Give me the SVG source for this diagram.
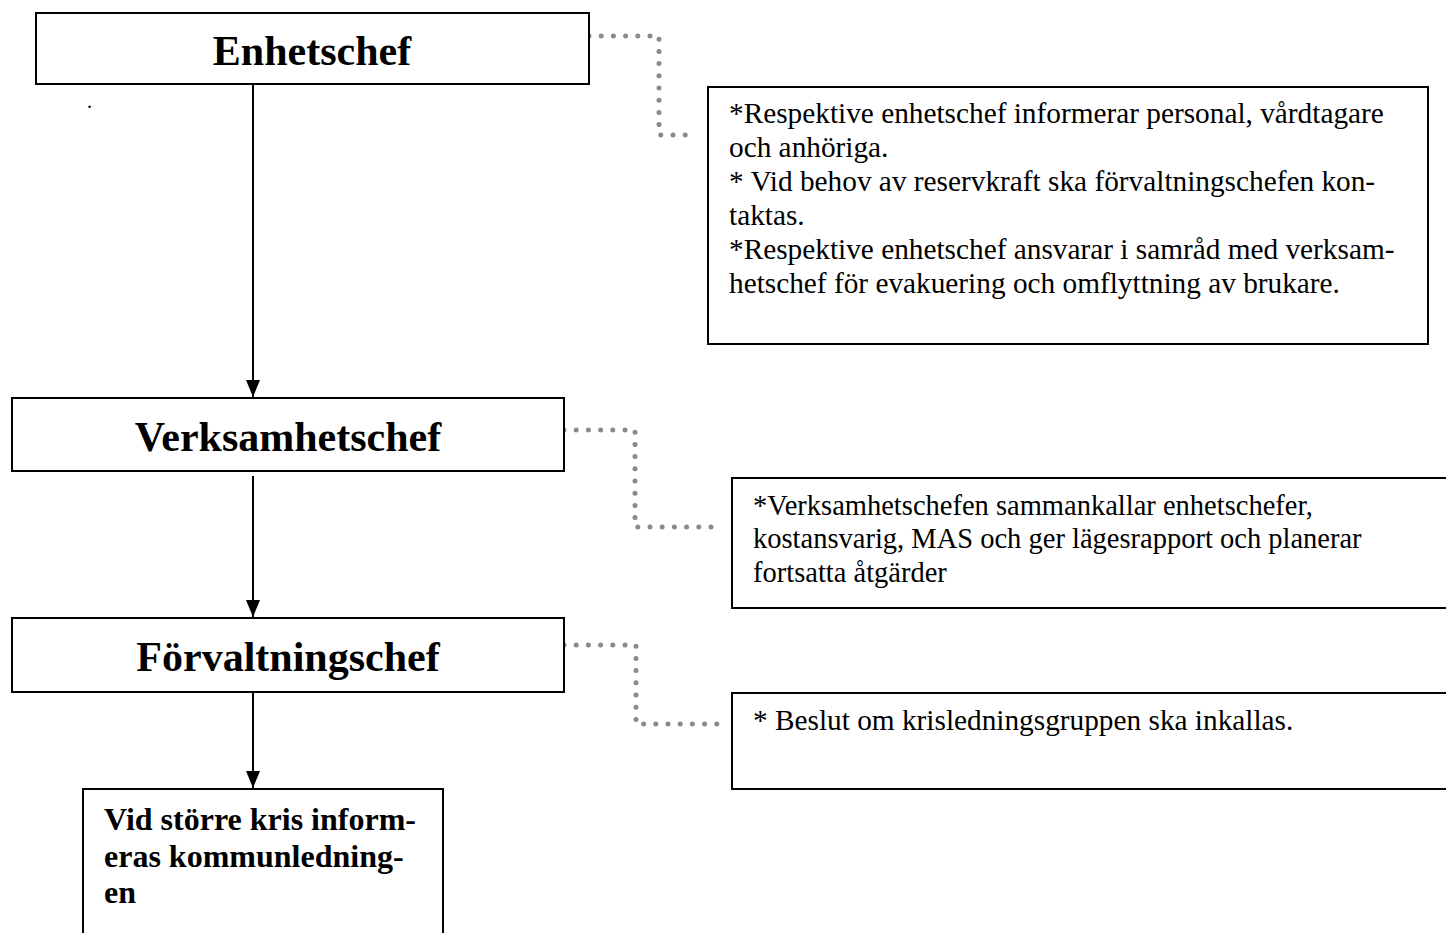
<svg xmlns="http://www.w3.org/2000/svg" width="1446" height="933" viewBox="0 0 1446 933">
<style>
.box{fill:#fff;stroke:#000;stroke-width:2}
.title{font-family:"Liberation Serif","Times New Roman",serif;font-weight:bold;font-size:42px;fill:#000;text-anchor:middle}
.note{font-family:"Liberation Serif","Times New Roman",serif;font-size:29.3px;fill:#000}
.note2{font-family:"Liberation Serif","Times New Roman",serif;font-size:28.5px;fill:#000}
.bold{font-family:"Liberation Serif","Times New Roman",serif;font-weight:bold;font-size:32px;fill:#000}
.dot{fill:none;stroke:#8a8a8a;stroke-width:5;stroke-linecap:round;stroke-dasharray:0 12.2}
.arrow{fill:none;stroke:#000;stroke-width:2;marker-end:url(#ah)}
</style>
<defs>
<marker id="ah" viewBox="0 0 17 14" refX="17" refY="7" markerWidth="17" markerHeight="14" orient="auto" markerUnits="userSpaceOnUse">
<path d="M0,0 L17,7 L0,14 z" fill="#000"/>
</marker>
</defs>
<rect width="1446" height="933" fill="#fff"/>
<g id="connectors">
<line class="arrow" x1="253" y1="85" x2="253" y2="397"/>
<line class="arrow" x1="253" y1="476" x2="253" y2="617"/>
<line class="arrow" x1="253" y1="693" x2="253" y2="788"/>
<path class="dot" d="M589,36 H659 V135 H697"/>
<path class="dot" d="M564,430 H635 V527 H722"/>
<path class="dot" d="M564,645 H636 V724 H722"/>
</g>
<g id="enhetschef">
<rect class="box" x="36" y="13" width="553" height="71"/>
<text class="title" x="312" y="65">Enhetschef</text>
</g>
<text x="87" y="108" font-family="Liberation Serif, serif" font-size="20">.</text>
<g id="note1">
<rect class="box" x="708" y="87" width="720" height="257"/>
<text class="note" x="729" y="123">*Respektive enhetschef informerar personal, vårdtagare</text>
<text class="note" x="729" y="157">och anhöriga.</text>
<text class="note" x="729" y="191">* Vid behov av reservkraft ska förvaltningschefen kon-</text>
<text class="note" x="729" y="225">taktas.</text>
<text class="note" x="729" y="259">*Respektive enhetschef ansvarar i samråd med verksam-</text>
<text class="note" x="729" y="293">hetschef för evakuering och omflyttning av brukare.</text>
</g>
<g id="verksamhetschef">
<rect class="box" x="12" y="398" width="552" height="73"/>
<text class="title" x="288" y="451">Verksamhetschef</text>
</g>
<g id="note2">
<rect class="box" x="732" y="478" width="800" height="130"/>
<text class="note2" x="753" y="515">*Verksamhetschefen sammankallar enhetschefer,</text>
<text class="note2" x="753" y="548">kostansvarig, MAS och ger lägesrapport och planerar</text>
<text class="note2" x="753" y="582">fortsatta åtgärder</text>
</g>
<g id="forvaltningschef">
<rect class="box" x="12" y="618" width="552" height="74"/>
<text class="title" x="288" y="671">Förvaltningschef</text>
</g>
<g id="note3">
<rect class="box" x="732" y="693" width="800" height="96"/>
<text class="note" x="753" y="730">* Beslut om krisledningsgruppen ska inkallas.</text>
</g>
<g id="kommunledning">
<rect class="box" x="83" y="789" width="360" height="200"/>
<text class="bold" x="104" y="830">Vid större kris inform-</text>
<text class="bold" x="104" y="867">eras kommunledning-</text>
<text class="bold" x="104" y="903">en</text>
</g>
</svg>
